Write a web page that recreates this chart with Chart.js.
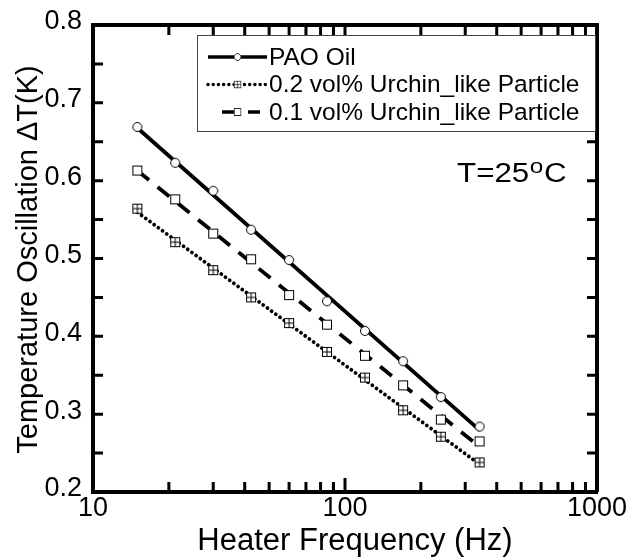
<!DOCTYPE html>
<html>
<head>
<meta charset="utf-8">
<script src="https://cdn.jsdelivr.net/npm/chart.js@4.4.0/dist/chart.umd.min.js"></script>
<style>
  body { margin: 0; background: #fff; }
  #wrap { width: 630px; height: 558px; position: relative; }
</style>
</head>
<body>
<div id="wrap"><canvas id="chart"></canvas></div>
<script>
// heater frequency sweep (Hz) and measured temperature oscillation (K)
const freqs = [15, 21.2, 30, 42.4, 60, 84.8, 120, 170, 240, 342];
const paoOil = [0.669, 0.623, 0.587, 0.537, 0.498, 0.445, 0.407, 0.368, 0.322, 0.284];
const urchin02 = [0.564, 0.521, 0.485, 0.450, 0.417, 0.380, 0.347, 0.305, 0.271, 0.238];
const urchin01 = [0.613, 0.576, 0.532, 0.499, 0.453, 0.415, 0.375, 0.337, 0.293, 0.265];
const seriesNames = ["PAO Oil", "0.2 vol% Urchin_like Particle", "0.1 vol% Urchin_like Particle"];
const xLabels = [10, 100, 1000];
const yLabels = [0.2, 0.3, 0.4, 0.5, 0.6, 0.7, 0.8];

const fontFamily = '"Liberation Sans", Arial, Helvetica, sans-serif';

function markerCanvas(kind) {
  const c = document.createElement("canvas");
  c.width = 12; c.height = 12;
  const g = c.getContext("2d");
  g.fillStyle = "#fff";
  g.strokeStyle = "#000";
  g.lineWidth = 1;
  if (kind === "circle") {
    g.beginPath();
    g.arc(6, 6, 4.5, 0, 2 * Math.PI);
    g.fill();
    g.stroke();
  } else {
    g.fillRect(1, 1, 10, 10);
    g.strokeRect(1.5, 1.5, 9, 9);
    if (kind === "grid") {
      g.beginPath();
      g.moveTo(6, 1.5); g.lineTo(6, 10.5);
      g.moveTo(1.5, 6); g.lineTo(10.5, 6);
      g.stroke();
    }
  }
  return c;
}

// least squares fit of value against log10(frequency)
function fitLine(values) {
  const xs = freqs.map(f => Math.log10(f));
  const n = xs.length;
  const mx = xs.reduce((a, b) => a + b, 0) / n;
  const my = values.reduce((a, b) => a + b, 0) / n;
  let sxy = 0, sxx = 0;
  xs.forEach((x, i) => { sxy += (x - mx) * (values[i] - my); sxx += (x - mx) * (x - mx); });
  const slope = sxy / sxx;
  const ends = [freqs[0], freqs[n - 1]];
  return ends.map(f => ({ x: f, y: my + slope * (Math.log10(f) - mx) }));
}

const series = [
  { name: seriesNames[0], values: paoOil, marker: markerCanvas("circle"), dash: [], cap: "butt" },
  { name: seriesNames[1], values: urchin02, marker: markerCanvas("grid"), dash: [0.01, 5.2], cap: "round" },
  { name: seriesNames[2], values: urchin01, marker: markerCanvas("square"), dash: [15, 11], cap: "butt" },
];

const datasets = [];
series.forEach(s => {
  datasets.push({
    data: fitLine(s.values),
    borderColor: "#000",
    borderWidth: 3.8,
    borderDash: s.dash,
    borderCapStyle: s.cap,
    pointRadius: 0,
    order: 2,
  });
  datasets.push({
    data: freqs.map((f, i) => ({ x: f, y: s.values[i] })),
    showLine: false,
    pointStyle: s.marker,
    pointRadius: 5,
    order: 1,
  });
});

const frame = { display: true, width: 4, color: "#000" };
const tickFont = { family: fontFamily, size: 27 };

// pin the plot box: drop the label overhang chart.js reserves around the axes
function pinAxis(size) {
  return s => {
    if (s.isHorizontal()) s.height = size; else s.width = size;
    s.paddingTop = 0; s.paddingBottom = 0; s.paddingLeft = 0; s.paddingRight = 0;
  };
}

// 1..9 times a power of ten (log scale also hands out 150)
function wholeDecadeStep(v) {
  const m = v / Math.pow(10, Math.floor(Math.log10(v) + 1e-9));
  return Math.abs(m - Math.round(m)) < 1e-6;
}

// closed frame with inward tick marks on all four sides
const framePlugin = {
  id: "framePlugin",
  afterDraw(chart) {
    const ctx = chart.ctx;
    const area = chart.chartArea;
    const xs = chart.scales.x, ys = chart.scales.y;
    const L = area.left, R = area.right, T = area.top, B = area.bottom;
    ctx.save();
    ctx.setLineDash([]);
    ctx.strokeStyle = "#000";
    ctx.lineWidth = 4;
    ctx.beginPath();
    ctx.moveTo(L, T);
    ctx.lineTo(R, T);
    ctx.lineTo(R, B);
    ctx.stroke();

    ctx.lineWidth = 3;
    xs.ticks.forEach(t => {
      const v = t.value;
      if (v <= 10 || v >= 1000 || !wholeDecadeStep(v)) return;
      const px = xs.getPixelForValue(v);
      const len = xLabels.includes(v) ? 14 : 10;
      ctx.beginPath();
      ctx.moveTo(px, B); ctx.lineTo(px, B - len);
      ctx.moveTo(px, T); ctx.lineTo(px, T + len);
      ctx.stroke();
    });
    ys.ticks.forEach(t => {
      const v = t.value;
      if (v <= 0.2001 || v >= 0.7999) return;
      const py = ys.getPixelForValue(v);
      ctx.beginPath();
      ctx.moveTo(L, py); ctx.lineTo(L + 10, py);
      ctx.moveTo(R, py); ctx.lineTo(R - 10, py);
      ctx.stroke();
    });
    ctx.restore();
  }
};

const textPlugin = {
  id: "textPlugin",
  afterDraw(chart) {
    const ctx = chart.ctx;
    const area = chart.chartArea;
    ctx.save();
    ctx.fillStyle = "#000";

    // axis titles
    ctx.textAlign = "center";
    ctx.textBaseline = "alphabetic";
    ctx.font = "31px " + fontFamily;
    ctx.fillText("Heater Frequency (Hz)", (area.left + area.right) / 2 + 10, area.bottom + 58);
    ctx.save();
    ctx.font = "29px " + fontFamily;
    ctx.translate(area.left - 56, (area.top + area.bottom) / 2 + 1);
    ctx.rotate(-Math.PI / 2);
    ctx.fillText("Temperature Oscillation \u0394T(K)", 0, 0);
    ctx.restore();

    // temperature note, set a little wide
    ctx.save();
    ctx.textAlign = "left";
    ctx.translate(area.right - 140, area.top + 157);
    ctx.scale(1.16, 1);
    let x = 0;
    ctx.font = "27px " + fontFamily;
    ctx.fillText("T=25", x, 0);
    x += ctx.measureText("T=25").width + 0.5;
    ctx.font = "21px " + fontFamily;
    ctx.fillText("o", x, -9);
    x += ctx.measureText("o").width + 0.5;
    ctx.font = "27px " + fontFamily;
    ctx.fillText("C", x, 0);
    ctx.restore();

    // legend box
    const bx = area.right - 400, by = area.top + 10, bw = 398, bh = 96;
    ctx.fillStyle = "#fff";
    ctx.fillRect(bx, by, bw, bh);
    ctx.strokeStyle = "#444";
    ctx.lineWidth = 1;
    ctx.strokeRect(bx + 0.5, by + 0.5, bw, bh);

    ctx.textAlign = "left";
    ctx.font = "24.5px " + fontFamily;
    ctx.textBaseline = "middle";
    series.forEach((s, i) => {
      const ry = by + 22 + i * 27.5;
      const x0 = i === 2 ? bx + 25 : bx + 11;
      const x1 = bx + 70;
      ctx.save();
      ctx.strokeStyle = "#000";
      ctx.lineWidth = 3.5;
      ctx.setLineDash(i === 2 ? [12, 14] : s.dash);
      ctx.lineCap = s.cap;
      ctx.beginPath();
      ctx.moveTo(x0, ry);
      ctx.lineTo(x1, ry);
      ctx.stroke();
      ctx.restore();
      ctx.drawImage(s.marker, bx + 36, ry - 4.5, 9, 9);
      ctx.fillStyle = "#000";
      ctx.fillText(s.name, bx + 72, ry + 1);
    });
    ctx.restore();
  }
};

new Chart(document.getElementById("chart"), {
  type: "line",
  data: { datasets: datasets },
  options: {
    responsive: true,
    maintainAspectRatio: false,
    animation: false,
    events: [],
    layout: { padding: { left: 0, right: 33, top: 25, bottom: 0 } },
    plugins: { legend: { display: false }, tooltip: { enabled: false } },
    scales: {
      x: {
        type: "logarithmic", position: "bottom", min: 10, max: 1000,
        border: frame, grid: { display: false, drawTicks: false },
        ticks: {
          autoSkip: false, maxRotation: 0, padding: 0, color: "#000", font: tickFont,
          callback: v => xLabels.includes(v) ? String(v) : "",
        },
        afterFit: pinAxis(66),
      },
      y: {
        type: "linear", position: "left", min: 0.2, max: 0.8,
        border: frame, grid: { display: false, drawTicks: false },
        ticks: {
          stepSize: 0.05, autoSkip: false, padding: 11, labelOffset: -3, color: "#000", font: tickFont,
          callback: v => yLabels.some(l => Math.abs(l - v) < 1e-6) ? v.toFixed(1) : "",
        },
        afterFit: pinAxis(93),
      },
    },
  },
  plugins: [framePlugin, textPlugin],
});
</script>
</body>
</html>
